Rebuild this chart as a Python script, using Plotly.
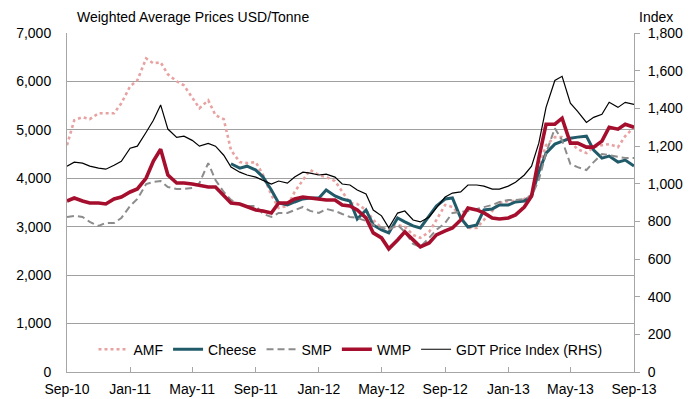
import pandas as pd
import plotly.graph_objects as go

# Twice-monthly GDT auction dates, Sep-2010 to Sep-2013
dates = pd.date_range("2010-09-01", periods=73, freq="SMS")

# Weighted average prices, USD/tonne
amf = [4684, 5199, 5261, 5220, 5343, 5343, 5343, 5549, 5899, 6023,
       6476, 6373, 6394, 6147, 6003, 5920, 5652, 5446, 5611, 5302,
       5220, 4581, 4334, 4313, 4334, 4067, 3655, 3387, 3428, 3717,
       3964, 4170, 4067, 4025, 3943, 3717, 3490, 3470, 3346, 3140,
       2975, 2934, 3037, 2996, 2831, 2769, 2893, 3140, 3449, 3408,
       3222, 2975, 2975, 3140, 3326, 3490, 3531, 3531, 3573, 3655,
       4211, 4684, 4849, 4849, 4746, 4602, 4520, 4643, 4684, 4705,
       4643, 4870, 5055]

cheese = [None] * 21 + [
       4300, 4210, 4250, 4170, 4025, 3758, 3490, 3449, 3511,
       3573, 3593, 3593, 3758, 3634, 3573, 3531, 3160, 3346, 3037,
       2934, 2872, 3181, 3099, 3016, 2975, 3222, 3428, 3573, 3593,
       3180, 2995, 3037, 3346, 3367, 3449, 3449, 3511, 3531, 3634,
       4128, 4520, 4705, 4767, 4829, 4850, 4870, 4581, 4417, 4458,
       4334, 4375, 4252]

smp = [3202, 3223, 3202, 3099, 3016, 3078, 3078, 3181, 3428, 3573,
       3881, 3923, 3943, 3820, 3779, 3779, 3800, 3902, 4314, 3964,
       3717, 3552, 3470, 3428, 3428, 3263, 3202, 3284, 3284, 3346,
       3408, 3326, 3284, 3367, 3326, 3263, 3202, 3181, 3119, 3037,
       2975, 2934, 3037, 2893, 2646, 2584, 2769, 2934, 3078, 3284,
       3305, 3326, 3367, 3408, 3449, 3511, 3552, 3552, 3573, 3634,
       3964, 4520, 5034, 4787, 4293, 4231, 4170, 4334, 4499, 4478,
       4437, 4417, 4417]

wmp = [3531, 3593, 3531, 3490, 3490, 3470, 3572, 3614, 3717, 3779,
       4005, 4355, 4600, 4067, 3902, 3902, 3881, 3861, 3820, 3820,
       3655, 3490, 3470, 3408, 3346, 3326, 3284, 3490, 3490, 3573,
       3614, 3593, 3573, 3552, 3552, 3449, 3428, 3346, 3181, 2872,
       2769, 2543, 2728, 2893, 2728, 2584, 2666, 2831, 2913, 2975,
       3140, 3387, 3346, 3284, 3181, 3160, 3181, 3243, 3408, 3634,
       4417, 5117, 5117, 5240, 4726, 4726, 4643, 4643, 4767, 5055,
       5014, 5117, 5055]

# GDT Price Index (right-hand scale)
gdt = [1093, 1114, 1109, 1093, 1083, 1077, 1098, 1119, 1188, 1199,
       1273, 1337, 1418, 1290, 1246, 1252, 1230, 1199, 1214, 1199,
       1151, 1088, 1061, 1046, 1035, 1019, 998, 1014, 1003, 1035,
       1061, 1056, 1046, 1051, 1035, 998, 993, 966, 945, 860,
       829, 765, 844, 855, 807, 797, 823, 871, 929, 950,
       956, 993, 993, 987, 971, 971, 987, 1008, 1046, 1093,
       1215, 1405, 1548, 1570, 1427, 1384, 1325, 1352, 1368, 1432,
       1405, 1432, 1421]

tick_dates = ["2010-09-01", "2011-01-01", "2011-05-01", "2011-09-01", "2012-01-01",
              "2012-05-01", "2012-09-01", "2013-01-01", "2013-05-01", "2013-09-01"]
tick_labels = ["Sep-10", "Jan-11", "May-11", "Sep-11", "Jan-12",
               "May-12", "Sep-12", "Jan-13", "May-13", "Sep-13"]

FONT = "Liberation Sans, Arial, sans-serif"
FS = 14

fig = go.Figure()
fig.add_trace(go.Scatter(x=dates, y=amf, name="AMF", mode="lines",
                         line=dict(color="#e8a2a2", width=2.6, dash="dot")))
fig.add_trace(go.Scatter(x=dates, y=cheese, name="Cheese", mode="lines",
                         line=dict(color="#215b6a", width=3)))
fig.add_trace(go.Scatter(x=dates, y=smp, name="SMP", mode="lines",
                         line=dict(color="#8c8c8c", width=2, dash="7px,4px")))
fig.add_trace(go.Scatter(x=dates, y=wmp, name="WMP", mode="lines",
                         line=dict(color="#a50f2d", width=3.6)))
fig.add_trace(go.Scatter(x=dates, y=gdt, name="GDT Price Index (RHS)", mode="lines",
                         yaxis="y2", line=dict(color="#000000", width=1.2)))

fig.update_layout(
    width=698, height=399,
    margin=dict(l=67, r=64, t=33, b=27),
    paper_bgcolor="white", plot_bgcolor="white",
    font=dict(family=FONT, size=FS, color="#000000"),
    showlegend=True,
    legend=dict(orientation="h", x=0.5, xanchor="center", y=0.066, yanchor="middle",
                bgcolor="rgba(0,0,0,0)", font=dict(size=FS), itemwidth=30,
                tracegroupgap=0),
    xaxis=dict(type="date", range=["2010-09-01", "2013-09-01"],
               tickvals=tick_dates, ticktext=tick_labels,
               showgrid=False, zeroline=False, automargin=False,
               showline=True, linecolor="#a6a6a6", linewidth=1,
               ticks="inside", ticklen=5, tickcolor="#a6a6a6",
               ticklabelstandoff=4),
    yaxis=dict(range=[0, 7000], dtick=1000, tickformat=",", automargin=False,
               showgrid=True, gridcolor="#a0a0a0", gridwidth=1,
               zeroline=False, showline=True, linecolor="#a6a6a6", linewidth=1,
               ticks="", ticklabelstandoff=12),
    yaxis2=dict(range=[0, 1800], dtick=200, tickformat=",", overlaying="y", side="right",
                showgrid=False, zeroline=False, showline=True, automargin=False,
                linecolor="#a6a6a6", linewidth=1,
                ticks="outside", ticklen=5, tickcolor="#a6a6a6", ticklabelstandoff=5),
    annotations=[
        dict(text="Weighted Average Prices USD/Tonne", xref="paper", yref="paper",
             x=0.014, y=1.046, xanchor="left", yanchor="middle", showarrow=False,
             font=dict(size=FS)),
        dict(text="Index", xref="paper", yref="paper",
             x=1.072, y=1.046, xanchor="right", yanchor="middle", showarrow=False,
             font=dict(size=FS)),
    ],
)

fig.write_html("out.html")
